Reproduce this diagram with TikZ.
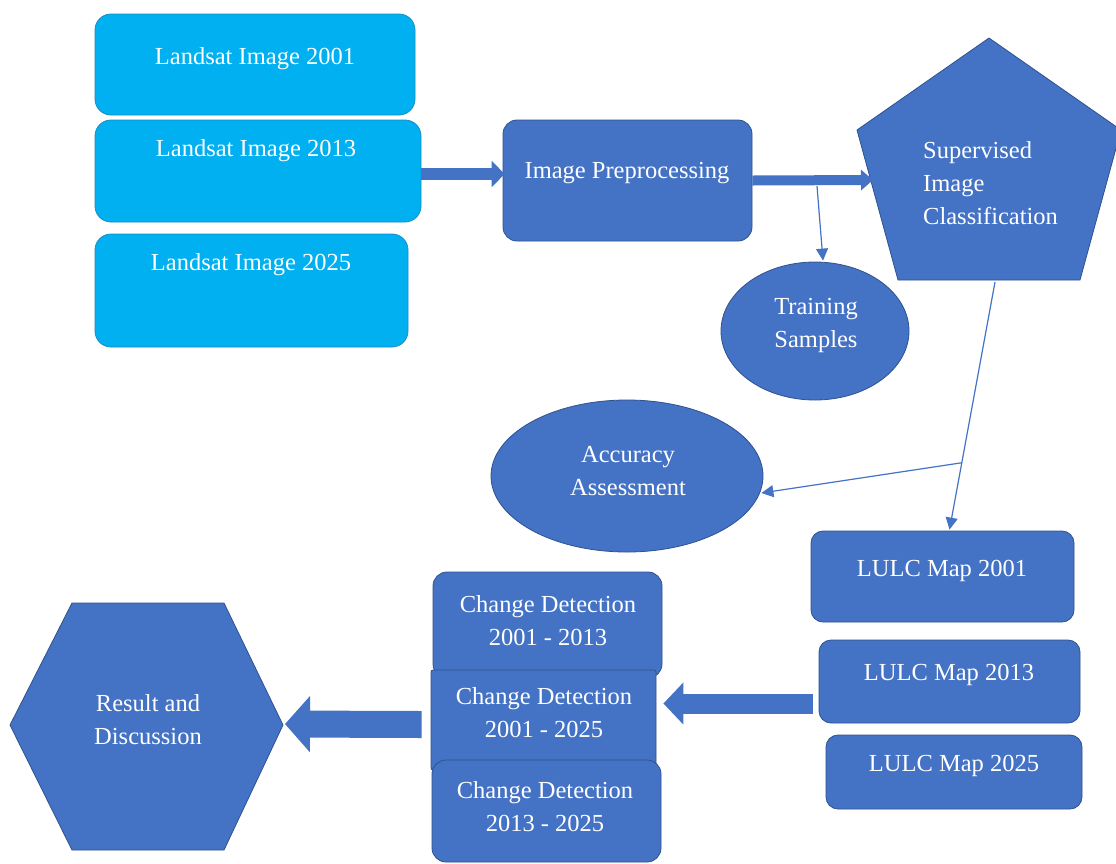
\documentclass[tikz,border=0pt]{standalone}
\usepackage{fontspec}
\setmainfont{Liberation Serif}
\newfontfamily\tnrfont{Liberation Serif}
\usetikzlibrary{arrows.meta,shapes.geometric,calc}
\definecolor{cyanfill}{HTML}{00B0F0}
\definecolor{cyanedge}{HTML}{1A8CC8}
\definecolor{bluefill}{HTML}{4472C4}
\definecolor{blueedge}{HTML}{2F528F}
\tikzset{
  cybox/.style={draw=cyanedge, fill=cyanfill, rounded corners=16pt, line width=0.8pt, inner sep=0pt},
  blbox/.style={draw=blueedge, fill=bluefill, rounded corners=14pt, line width=0.8pt, inner sep=0pt},
  blell/.style={ellipse, draw=blueedge, fill=bluefill, line width=0.8pt, inner sep=0pt},
  blshape/.style={draw=blueedge, fill=bluefill, line width=0.8pt},
  txt/.style={text=white, font=\tnrfont\fontsize{24.5}{33}\selectfont, align=center, inner sep=0pt},
  thinarrow/.style={draw=bluefill, line width=1.2pt, -{Triangle[length=12pt,width=12pt]}},
}
\begin{document}
\begin{tikzpicture}[x=1pt,y=-1pt]
\fill[white] (0,0) rectangle (1116,863);
\useasboundingbox (0,0) rectangle (1116,863);

% Landsat images
\node[cybox, minimum width=320, minimum height=101] (l1) at (255,64.5) {};
\node[txt] (l1t) at (255,59) {Landsat Image 2001};
\node[cybox, minimum width=326, minimum height=102] (l2) at (258,171) {};
\node[txt] (l2t) at (256,151) {Landsat Image 2013};
\node[cybox, minimum width=313, minimum height=113] (l3) at (251.5,290.5) {};
\node[txt] (l3t) at (251,265) {Landsat Image 2025};

% Image preprocessing
\node[blbox, minimum width=249, minimum height=121] (pre) at (627.5,180.5) {};
\node[txt] (pret) at (627,173) {Image Preprocessing};

% Supervised classification pentagon
\path[blshape] (989,38) -- (1121,130) -- (1080,280) -- (898,280) -- (857,130) -- cycle;
\node[txt, align=left, anchor=west] (sup) at (923,183) {Supervised\\Image\\Classification};
\coordinate (supL) at (873,180);
\coordinate (supB) at (995,282);

% Training samples
\node[blell, minimum width=188, minimum height=138] (train) at (815,331) {};
\node[txt] (traint) at (816,325) {Training\\Samples};

% Accuracy assessment
\node[blell, minimum width=272, minimum height=152] (acc) at (627,476) {};
\node[txt] (acct) at (628,471) {Accuracy\\Assessment};

% LULC maps
\node[blbox, rounded corners=12pt, minimum width=263, minimum height=91] (lu1) at (942.5,576.5) {};
\node[txt] (lu1t) at (942,571) {LULC Map 2001};
\node[blbox, rounded corners=12pt, minimum width=261, minimum height=83] (lu2) at (949.5,681.5) {};
\node[txt] (lu2t) at (949,675) {LULC Map 2013};
\node[blbox, rounded corners=12pt, minimum width=256, minimum height=74] (lu3) at (954,772) {};
\node[txt] (lu3t) at (954,766) {LULC Map 2025};

% Change detection
\node[blbox, minimum width=229, minimum height=106] (cd1) at (547.5,625) {};
\node[txt] (cd1t) at (548,621) {Change Detection\\2001 - 2013};
\node[blbox, rounded corners=2pt, minimum width=225, minimum height=100] (cd2) at (543.5,720) {};
\node[txt] (cd2t) at (544,713) {Change Detection\\2001 - 2025};
\node[blbox, minimum width=229, minimum height=102] (cd3) at (546.5,811) {};
\node[txt] (cd3t) at (545,807) {Change Detection\\2013 - 2025};

% Result hexagon
\path[blshape] (72,603) -- (224,603) -- (283,725) -- (224,850) -- (72,850) -- (10,725) -- cycle;
\node[txt] (res) at (148,720) {Result and\\Discussion};
\coordinate (resR) at (285,724);

% Block arrows
\draw[bluefill, line width=12pt, -{Triangle[length=13pt,width=26pt]}]
  ($(l2.east)+(0,3)$) coordinate (a1) -- ($(a1 -| pre.west)+(2,0)$);
\draw[bluefill, line width=10pt, -{Triangle[length=12pt,width=20pt]}]
  (pre.east) -- (supL);
\draw[bluefill, line width=20pt, -{Triangle[length=20pt,width=41pt]}]
  ($(lu2.west)+(-6,22)$) coordinate (a3) -- ($(a3 -| cd2.east)+(7,0)$);
\draw[bluefill, line width=27pt, -{Triangle[length=25pt,width=55pt]}]
  ($(cd2.west)+(-9,4.5)$) -- (resR);

% Thin arrows
\coordinate (tsrc) at (817,186);
\draw[thinarrow] (tsrc) -- ($(train.north)+(8,-1)$);
\coordinate (lutop) at ($(lu1.north)+(7,-1)$);
\draw[thinarrow] (supB) -- (lutop);
\coordinate (br) at ($(supB)!0.73!(lutop)$);
\draw[thinarrow] (br) -- ($(acc.east)+(-2,17)$);
\end{tikzpicture}
\end{document}
